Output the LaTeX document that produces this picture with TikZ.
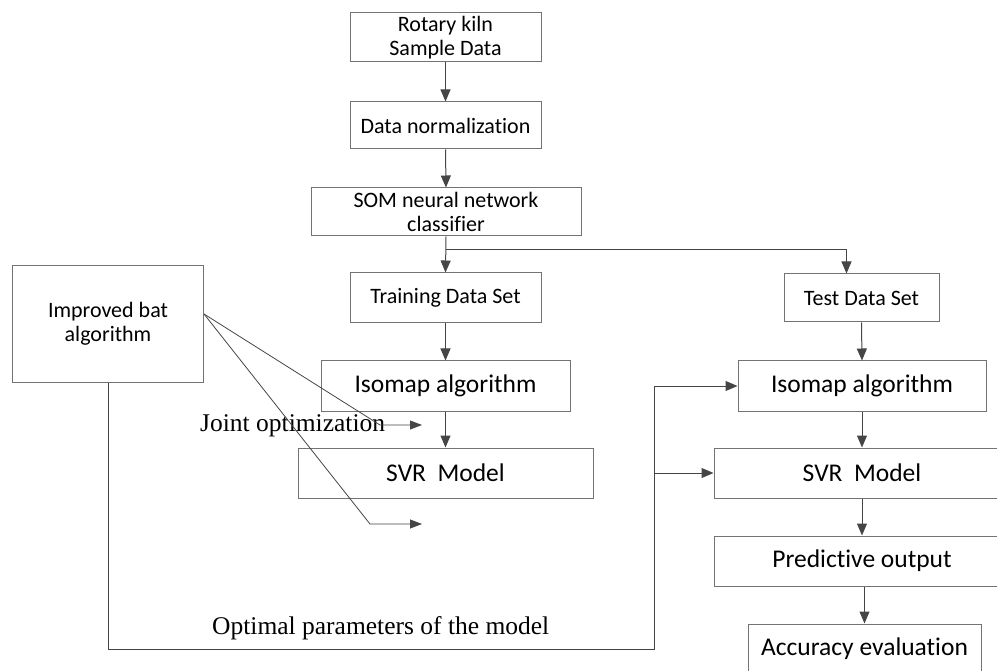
\documentclass[tikz,border=0pt]{standalone}
\usepackage{fontspec}
\setmainfont{Carlito}[Ligatures={NoCommon,NoRare}]
\newfontfamily\serifx{Liberation Serif}
\usetikzlibrary{arrows.meta,calc}
\definecolor{boxgray}{rgb}{0.45,0.45,0.45}
\definecolor{arrgray}{rgb}{0.27,0.27,0.27}
\begin{document}
\begin{tikzpicture}[x=1pt,y=-1pt,
  box/.style={draw=boxgray,line width=1pt,rectangle,inner sep=0pt,align=center,text=black},
  sm/.style={font=\fontsize{22}{24.5}\selectfont},
  lg/.style={font=\fontsize{25.5}{28}\selectfont},
  arr/.style={draw=arrgray,line width=1pt,-{Triangle[length=12pt,width=10pt]}},
  ln/.style={draw=arrgray,line width=1pt},
  thin/.style={draw=arrgray,line width=0.8pt,-{Triangle[length=12pt,width=9pt]}},
  lbl/.style={font=\serifx\fontsize{25.5}{28}\selectfont,inner sep=0pt,text=black}]
\useasboundingbox (0,0) rectangle (997,671);
% boxes
\node[box,sm,minimum width=191pt,minimum height=49pt] (b1) at (445.5,37.5) {Rotary kiln\\Sample Data};
\node[box,sm,minimum width=191pt,minimum height=47pt] (b2) at (445.5,125.5) {Data normalization};
\node[box,sm,minimum width=270pt,minimum height=48pt] (som) at (446,212) {SOM neural network\\classifier};
\node[box,sm,minimum width=191pt,minimum height=50pt] (train) at (445.5,298) {Training Data Set};
\node[box,sm,minimum width=155pt,minimum height=48pt] (test) at (861.5,298) {Test Data Set};
\node[box,sm,minimum width=191pt,minimum height=116pt] (bat) at (108,324) {Improved bat\\algorithm};
\node[box,lg,minimum width=249pt,minimum height=50pt] (iso1) at (445.5,386) {Isomap algorithm};
\node[box,lg,minimum width=295pt,minimum height=50pt] (svr1) at (445.5,473) {SVR\ \ Model};
\node[box,lg,minimum width=248pt,minimum height=50pt] (iso2) at (862,386) {Isomap algorithm};
\node[box,lg,minimum width=296pt,minimum height=50pt] (svr2) at (862,473) {SVR\ \ Model};
\node[box,lg,minimum width=296pt,minimum height=50pt] (pred) at (862,561) {Predictive output};
\node[box,lg,minimum width=233pt,minimum height=50pt] (acc) at (864.5,649) {Accuracy evaluation};
% labels
\node[lbl,anchor=base west] (jo) at (200,431) {Joint optimization};
\node[lbl,anchor=base west] (op) at (212,634) {Optimal parameters of the model};
% main flow
\draw[arr] (b1.south) -- (b2.north);
\draw[arr] (b2.south) -- (som.north);
\draw[arr] (som.south) -- (train.north);
\coordinate (br) at (446,250);
\draw[arr] (br) -| ([xshift=-15pt]test.north);
\draw[arr] (train.south) -- (iso1.north);
\draw[arr] (iso1.south) -- (svr1.north);
\draw[arr] (test.south) -- (iso2.north);
\draw[arr] (iso2.south) -- (svr2.north);
\draw[arr] (svr2.south) -- (pred.north);
\draw[arr] (acc.north |- pred.south) -- (acc.north);
% optimal parameters feedback
\coordinate (c1) at (654,649);
\draw[ln] (bat.south) |- (c1) -- (c1 |- iso2.west);
\draw[arr] (c1 |- iso2.west) -- (iso2.west);
\draw[arr] (c1 |- svr2.west) -- (svr2.west);
% joint optimization
\coordinate (bo) at ([yshift=10pt]bat.east);
\coordinate (k1) at (380,425);
\coordinate (t1) at (422,425);
\coordinate (k2) at (370,524);
\coordinate (t2) at (422,524);
\draw[thin] (bo) -- (k1) -- (t1);
\draw[thin] (bo) -- (k2) -- (t2);
\end{tikzpicture}
\end{document}
